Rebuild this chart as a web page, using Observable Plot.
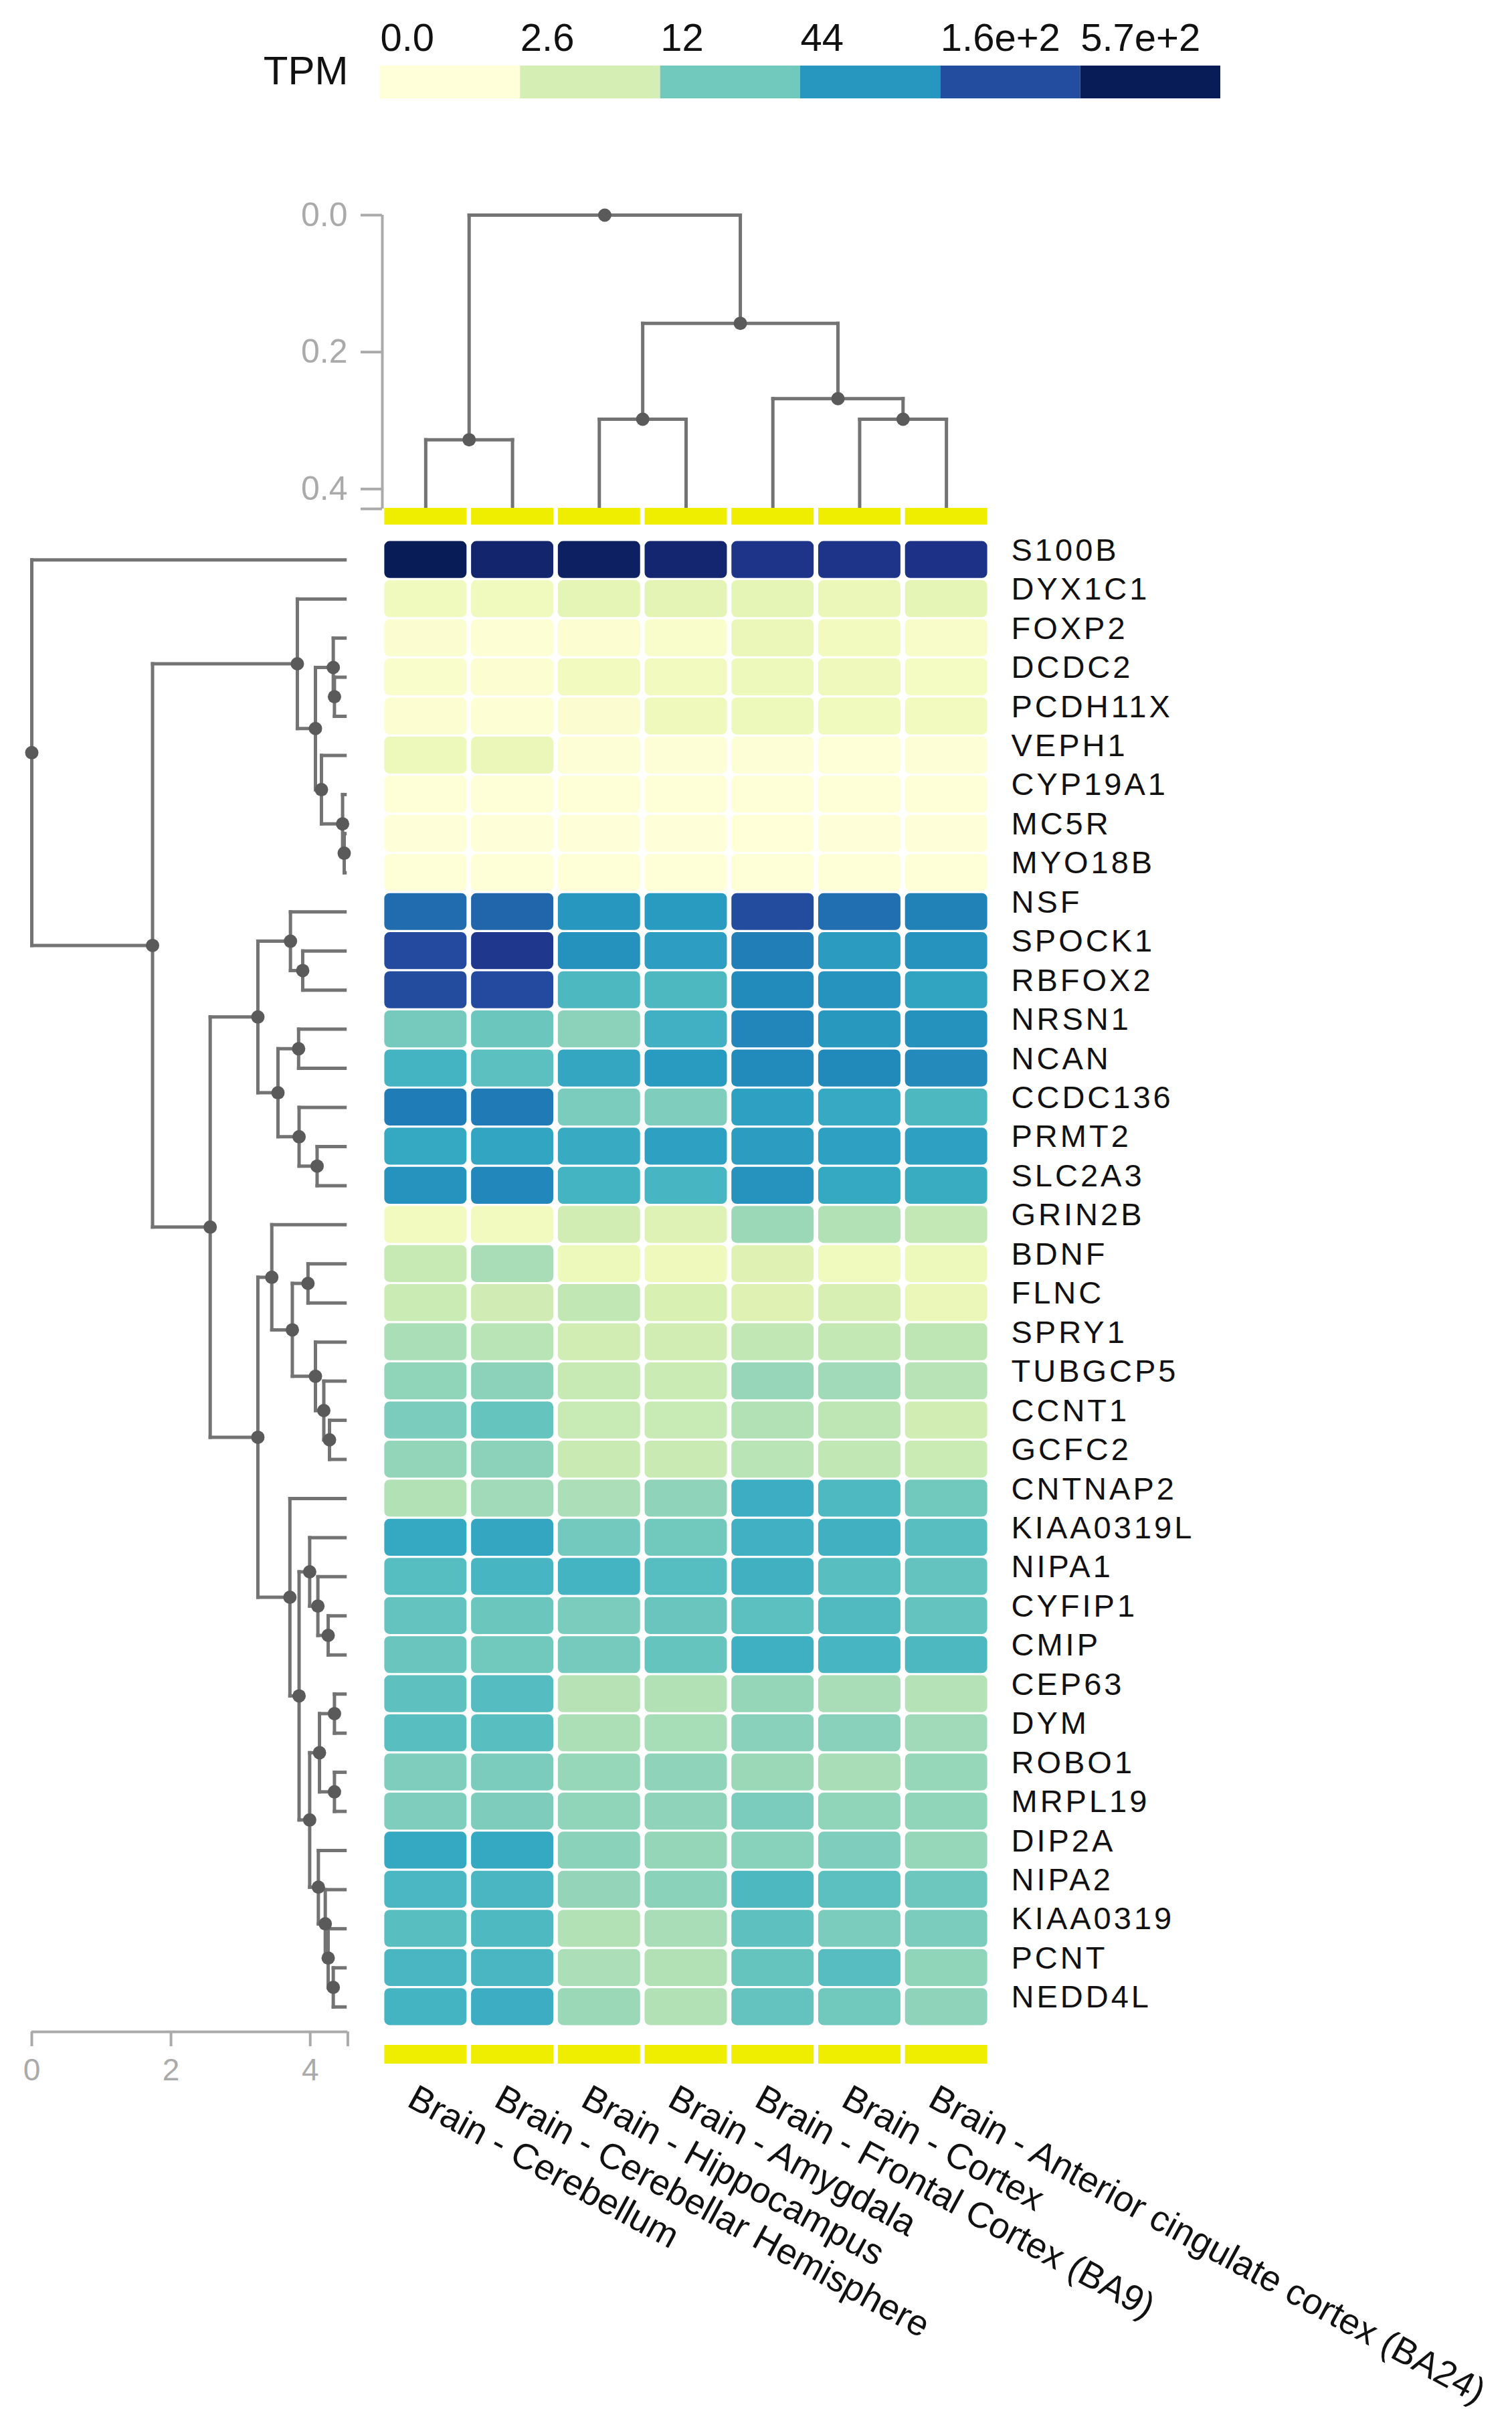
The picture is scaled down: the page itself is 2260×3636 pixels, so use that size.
<!DOCTYPE html>
<html>
<head>
<meta charset="utf-8">
<script src="https://cdn.jsdelivr.net/npm/d3@7"></script>
<script src="https://cdn.jsdelivr.net/npm/@observablehq/plot@0.6"></script>
<style>
html, body { margin: 0; padding: 0; background: #fff; }
#chart { position: relative; width: 2260px; height: 3636px; background: #fff; overflow: hidden; }
</style>
</head>
<body>
<div id="chart"></div>
<script>
// ---------------- DATA ----------------
const tissues = [
  "Brain - Cerebellum",
  "Brain - Cerebellar Hemisphere",
  "Brain - Hippocampus",
  "Brain - Amygdala",
  "Brain - Frontal Cortex (BA9)",
  "Brain - Cortex",
  "Brain - Anterior cingulate cortex (BA24)"
];

const genes = ["S100B","DYX1C1","FOXP2","DCDC2","PCDH11X","VEPH1","CYP19A1","MC5R","MYO18B",
  "NSF","SPOCK1","RBFOX2","NRSN1","NCAN","CCDC136","PRMT2","SLC2A3","GRIN2B","BDNF","FLNC",
  "SPRY1","TUBGCP5","CCNT1","GCFC2","CNTNAP2","KIAA0319L","NIPA1","CYFIP1","CMIP","CEP63",
  "DYM","ROBO1","MRPL19","DIP2A","NIPA2","KIAA0319","PCNT","NEDD4L"];

// TPM per tissue, in gene order
const cerebellum = [570, 0.8, 0.2, 0.3, 0.15, 1.0, 0.05, 0.03, 0.05, 93, 170, 165, 11.5, 23, 72, 31, 48, 0.7, 3.5, 3.2, 5.6, 8, 10.5, 7.8, 5, 31, 17.5, 14.5, 13.5, 15.5, 17, 10, 10, 31, 21, 17, 21.5, 23];
const cerebellarHemisphere = [430, 0.8, 0.1, 0.15, 0.1, 1.1, 0.04, 0.03, 0.04, 105, 260, 170, 13, 16, 74, 33, 58, 0.7, 5.8, 2.9, 4.5, 8.5, 14, 8.5, 6.5, 32, 22, 13, 12, 18, 17, 10.5, 10.2, 31, 21.5, 19.5, 21.5, 27];
const hippocampus = [500, 1.5, 0.15, 0.7, 0.2, 0.08, 0.05, 0.03, 0.05, 44, 50, 20, 8.5, 32, 10.5, 29, 23, 2.8, 1.0, 3.9, 2.8, 3.5, 3.4, 3.3, 5.5, 11.7, 23, 10.5, 11.5, 4.7, 5.4, 7.4, 8, 8.6, 7.6, 5, 5.5, 7];
const amygdala = [420, 1.6, 0.3, 0.7, 0.9, 0.08, 0.05, 0.03, 0.04, 41, 38, 20, 25, 42, 10, 37, 22, 2.0, 0.9, 2.3, 2.8, 3.2, 3.4, 3.3, 8.2, 12, 17.5, 13.5, 14, 4.9, 5.9, 8.2, 8.2, 7.5, 8.6, 5.8, 4.9, 5];
const frontalCortex = [280, 1.5, 1.1, 1.0, 1.0, 0.08, 0.04, 0.02, 0.04, 165, 70, 55, 60, 55, 37, 39, 48, 7, 1.9, 1.9, 3.9, 7.3, 5, 4.5, 27, 25, 24.5, 16, 25.5, 7.5, 8.8, 7, 10.5, 8.9, 20, 15.5, 14, 14.5];
const cortex = [280, 1.2, 0.7, 0.9, 0.8, 0.05, 0.04, 0.03, 0.04, 90, 40, 48, 43, 57, 30, 37, 31, 5, 0.8, 2.4, 3.7, 6.5, 4.1, 3.9, 19.5, 24.5, 17, 19, 22, 5.8, 8.8, 5.8, 8, 10, 16, 10.5, 17.3, 12];
const anteriorCingulate = [290, 1.5, 0.4, 0.6, 0.7, 0.08, 0.05, 0.03, 0.04, 65, 48, 34, 50, 56, 20, 37, 28, 3.8, 1.0, 1.2, 4.1, 4.6, 2.8, 3.2, 12, 17, 14.5, 14.5, 20, 4.8, 6.5, 7.4, 8, 7.4, 12.5, 10.5, 8, 8.2];
const series = [cerebellum, cerebellarHemisphere, hippocampus, amygdala, frontalCortex, cortex, anteriorCingulate];

// colour legend
const legendValues = [0, 2.6, 12, 44, 160, 570];
const legendLabels = ["0.0", "2.6", "12", "44", "1.6e+2", "5.7e+2"];
const legendTitle = "TPM";

// column dendrogram: [node, child A, child B, height]
const topTreeMerges = [
  ["t12", "Brain - Cerebellum", "Brain - Cerebellar Hemisphere", 0.328],
  ["t34", "Brain - Hippocampus", "Brain - Amygdala", 0.298],
  ["t67", "Brain - Cortex", "Brain - Anterior cingulate cortex (BA24)", 0.298],
  ["t567", "Brain - Frontal Cortex (BA9)", "t67", 0.268],
  ["t3to7", "t34", "t567", 0.158],
  ["tRoot", "t12", "t3to7", 0.0]
];
const topLeafHeight = 0.428;
const topAxisTicks = [0, 0.2, 0.4];
const topAxisMax = 0.429;

// row dendrogram: [node, child A, child B, distance from root]
const leftTreeMerges = [
  ["B7", "MC5R", "MYO18B", 4.488],
  ["B6", "CYP19A1", "B7", 4.465],
  ["B4", "VEPH1", "B6", 4.161],
  ["B5", "DCDC2", "PCDH11X", 4.348],
  ["B3", "FOXP2", "B5", 4.331],
  ["B2", "B3", "B4", 4.075],
  ["B", "DYX1C1", "B2", 3.815],
  ["D1b", "SPOCK1", "RBFOX2", 3.892],
  ["D1", "NSF", "D1b", 3.716],
  ["D2a", "NRSN1", "NCAN", 3.833],
  ["D2c", "PRMT2", "SLC2A3", 4.099],
  ["D2b", "CCDC136", "D2c", 3.840],
  ["D2", "D2a", "D2b", 3.537],
  ["D", "D1", "D2", 3.248],
  ["E1b", "BDNF", "FLNC", 3.968],
  ["E1e", "CCNT1", "GCFC2", 4.277],
  ["E1d", "TUBGCP5", "E1e", 4.195],
  ["E1c", "SPRY1", "E1d", 4.075],
  ["E1a", "E1b", "E1c", 3.743],
  ["E1", "GRIN2B", "E1a", 3.448],
  ["E4b", "CYFIP1", "CMIP", 4.258],
  ["E4a", "NIPA1", "E4b", 4.110],
  ["E4", "KIAA0319L", "E4a", 3.992],
  ["E5c", "CEP63", "DYM", 4.348],
  ["E5d", "ROBO1", "MRPL19", 4.348],
  ["E5a", "E5c", "E5d", 4.133],
  ["E5g", "PCNT", "NEDD4L", 4.331],
  ["E5f", "KIAA0319", "E5g", 4.258],
  ["E5e", "NIPA2", "E5f", 4.216],
  ["E5b", "DIP2A", "E5e", 4.117],
  ["E5", "E5a", "E5b", 3.992],
  ["E3", "E4", "E5", 3.840],
  ["E2", "CNTNAP2", "E3", 3.708],
  ["E", "E1", "E2", 3.248],
  ["C", "D", "E", 2.563],
  ["A", "B", "C", 1.735],
  ["root", "S100B", "A", 0.0]
];
const leftLeafDistance = 4.5;
const leftAxisTicks = [0, 2, 4];
const leftAxisMax = 4.54;

// ---------------- HELPERS ----------------
const FONT = '"Liberation Sans", Arial, Helvetica, sans-serif';
const chart = document.getElementById("chart");
function place(svg, left, top, color) {
  svg.style.position = "absolute";
  svg.style.left = left + "px";
  svg.style.top = top + "px";
  svg.style.maxWidth = "none";
  svg.style.overflow = "visible";
  svg.style.background = "transparent";
  svg.style.fontFamily = FONT;
  if (color) svg.style.color = color;
  chart.appendChild(svg);
  return svg;
}
function layoutTree(merges, leaves, leafPos, leafH) {
  const pos = new Map();
  leaves.forEach((l, i) => pos.set(l, {p: leafPos(i), h: leafH}));
  const segs = [], nodes = [];
  for (const [name, a, b, h] of merges) {
    const A = pos.get(a), B = pos.get(b);
    const p = (A.p + B.p) / 2;
    pos.set(name, {p, h});
    nodes.push({p, h});
    segs.push({p1: A.p, h1: h, p2: B.p, h2: h});
    segs.push({p1: A.p, h1: h, p2: A.p, h2: A.h});
    segs.push({p1: B.p, h1: h, p2: B.p, h2: B.h});
  }
  return {segs, nodes};
}
const colorOpts = {type: "symlog", scheme: "YlGnBu", domain: [0, 570], clamp: true};
const LINE = "#737373", DOT = "#5a5a5a", AXIS = "#aaaaaa";
const LW = 5, DR = 10;

// page geometry of the heatmap grid
const gridLeft = 571, gridRight = 1479, gridTop = 807, gridBottom = 3028;

// ---------------- LEGEND ----------------
const legendBins = legendLabels.map((label, i) => ({label, value: legendValues[i]}));
const lgLeft = 568, lgRight = 1824;
const lgBand = (lgRight - lgLeft) / legendBins.length;
place(Plot.plot({
  width: 2260, height: 200,
  marginLeft: lgLeft, marginRight: 2260 - lgRight, marginTop: 98, marginBottom: 53,
  x: {type: "band", domain: legendLabels, padding: 0, round: false, axis: null},
  color: colorOpts,
  marks: [
    Plot.cell(legendBins, {x: "label", fill: "value"}),
    Plot.text(legendBins, {x: "label", text: "label", frameAnchor: "top", textAnchor: "start",
      lineAnchor: "bottom", dx: -lgBand / 2, dy: -23, fontSize: 58, fill: "#111"}),
    Plot.text([legendTitle], {text: d => d, frameAnchor: "top-left", textAnchor: "end",
      lineAnchor: "bottom", dx: -48, dy: 27, fontSize: 60, fill: "#111"})
  ]
}), 0, 0);

// ---------------- TOP DENDROGRAM ----------------
const topTree = layoutTree(topTreeMerges, tissues, i => i + 1, topLeafHeight);
const topSvgTop = 200, topSvgH = 570;
place(Plot.plot({
  width: 1500, height: topSvgH,
  marginLeft: gridLeft, marginRight: 1500 - gridRight,
  marginTop: 321 - topSvgTop, marginBottom: topSvgH - (760 - topSvgTop),
  x: {domain: [0.5, tissues.length + 0.5], axis: null},
  y: {domain: [0, topAxisMax], reverse: true, axis: null, label: null},
  marks: [
    Plot.ruleX([0.5], {y1: 0, y2: topAxisMax, stroke: AXIS, strokeWidth: 4}),
    Plot.axisY({ticks: [...topAxisTicks, topAxisMax], anchor: "left", label: null,
      tickSize: 32, tickPadding: 20, strokeWidth: 4, fontSize: 50,
      tickFormat: d => d === topAxisMax ? "" : d.toFixed(1)}),
    Plot.link(topTree.segs, {x1: "p1", y1: "h1", x2: "p2", y2: "h2", stroke: LINE, strokeWidth: LW, strokeLinecap: "square"}),
    Plot.dot(topTree.nodes, {x: "p", y: "h", r: DR, fill: DOT})
  ]
}), 0, topSvgTop, AXIS);

// ---------------- LEFT DENDROGRAM ----------------
const leftTree = layoutTree(leftTreeMerges, genes, i => i, leftLeafDistance);
const pxPerUnit = 104.05, lx0 = 47;
const lRight = 560 - (lx0 + leftLeafDistance * pxPerUnit);
const leftSvgTop = 770, leftSvgH = 2260;
place(Plot.plot({
  width: 560, height: leftSvgH,
  marginLeft: lx0, marginRight: lRight,
  marginTop: gridTop - leftSvgTop, marginBottom: leftSvgTop + leftSvgH - gridBottom,
  x: {domain: [0, leftLeafDistance], axis: null},
  y: {domain: [-0.5, genes.length - 0.5], reverse: true, axis: null},
  marks: [
    Plot.link(leftTree.segs, {x1: "h1", y1: "p1", x2: "h2", y2: "p2", stroke: LINE, strokeWidth: LW, strokeLinecap: "square"}),
    Plot.dot(leftTree.nodes, {x: "h", y: "p", r: DR, fill: DOT})
  ]
}), 0, leftSvgTop);

// left axis
place(Plot.plot({
  width: 560, height: 110,
  marginLeft: lx0, marginRight: lRight, marginTop: 0, marginBottom: 104,
  x: {domain: [0, leftLeafDistance], axis: null, label: null},
  y: {domain: [0, 1], axis: null},
  marks: [
    Plot.ruleY([0], {x1: 0, x2: leftAxisMax, stroke: AXIS, strokeWidth: 4}),
    Plot.axisX({ticks: [...leftAxisTicks, leftAxisMax], anchor: "bottom", label: null,
      tickSize: 22, tickPadding: 18, strokeWidth: 4, fontSize: 46,
      tickFormat: d => d === leftAxisMax ? "" : String(d)})
  ]
}), 0, 3030, AXIS);

// ---------------- ANNOTATION BARS ----------------
function annotationBar(top, h) {
  place(Plot.plot({
    width: 1700, height: h,
    marginLeft: gridLeft - 560, marginRight: 2260 - gridRight, marginTop: 0, marginBottom: 0,
    x: {type: "band", domain: tissues, padding: 0, round: false, axis: null},
    marks: [Plot.cell(tissues, {x: d => d, fill: "#efee00", insetLeft: 3.4, insetRight: 3.4})]
  }), 560, top);
}
annotationBar(759, 25);
annotationBar(3056, 28);

// ---------------- HEATMAP ----------------
const cells = genes.flatMap((g, i) => tissues.map((t, j) => ({gene: g, tissue: t, tpm: series[j][i]})));
const heatTop = 790, heatH = 3636 - heatTop;
const heatSvg = place(Plot.plot({
  width: 1700, height: heatH,
  marginLeft: gridLeft - 560, marginRight: 2260 - gridRight,
  marginTop: gridTop - heatTop, marginBottom: heatTop + heatH - gridBottom,
  x: {type: "band", domain: tissues, padding: 0, round: false, axis: null},
  y: {type: "band", domain: genes, padding: 0, round: false, axis: null},
  color: colorOpts,
  marks: [
    Plot.cell(cells, {x: "tissue", y: "gene", fill: "tpm",
      insetLeft: 3.4, insetRight: 3.4, insetTop: 1.6, insetBottom: 1.6, rx: 8}),
    Plot.text(genes, {y: d => d, text: d => d, frameAnchor: "right", textAnchor: "start",
      dx: 32, dy: -14, fontSize: 47, fill: "#111"}),
    Plot.text(tissues, {x: d => d, text: d => d, frameAnchor: "bottom", textAnchor: "start",
      lineAnchor: "bottom", rotate: 28.5, dx: -30, dy: 118, fontSize: 54, fill: "#111"})
  ]
}), 560, heatTop);

// letter spacing of gene labels
const geneSet = new Set(genes);
heatSvg.querySelectorAll("text").forEach(t => {
  if (geneSet.has(t.textContent)) t.setAttribute("letter-spacing", "4");
});
</script>
</body>
</html>
